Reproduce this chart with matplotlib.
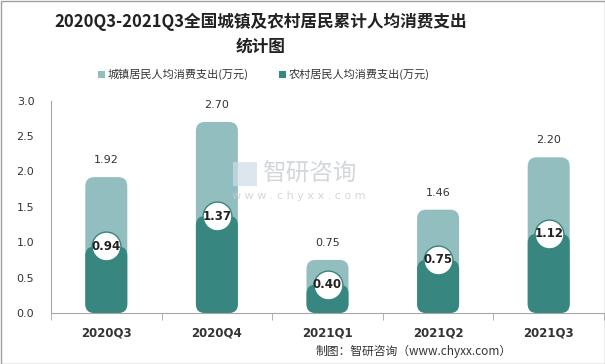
import matplotlib.pyplot as plt
from matplotlib.patches import FancyBboxPatch, Rectangle

plt.rcParams['font.family'] = ['Noto Sans CJK SC', 'DejaVu Sans']

quarters = ["2020Q3", "2020Q4", "2021Q1", "2021Q2", "2021Q3"]
urban = [1.92, 2.70, 0.75, 1.46, 2.20]
rural = [0.94, 1.37, 0.40, 0.75, 1.12]

light = "#93bec0"
dark = "#37867f"

W, H = 605, 364
fig = plt.figure(figsize=(W / 100, H / 100), dpi=100)
ax = fig.add_axes([51 / W, 1 - 313 / H, 553 / W, (313 - 100.7) / H])
ax.set_xlim(-0.5, len(quarters) - 0.5)
ax.set_ylim(0, 3)

# px -> data unit conversions
px_x = len(quarters) / 553
px_y = 3 / (313 - 100.7)
aspect = px_y / px_x
bw = 42 * px_x
r = 9 * px_x

for i, (u, v) in enumerate(zip(urban, rural)):
    for val, col in [(u, light), (v, dark)]:
        p = FancyBboxPatch((i - bw / 2, 0), bw, val,
                           boxstyle=f"round,pad=0,rounding_size={r}",
                           mutation_aspect=aspect, fc=col, ec="none", zorder=2)
        ax.add_patch(p)
    ax.text(i, u + 12 * px_y, f"{u:.2f}", ha="center", va="bottom",
            fontsize=8, color="#333333", family=["DejaVu Sans"])

ax.scatter(range(len(quarters)), rural, s=430, c="white", edgecolors=dark,
           linewidths=1, zorder=3)
for i, v in enumerate(rural):
    ax.text(i, v, f"{v:.2f}", ha="center", va="center", fontsize=8.5,
            fontweight="bold", color="#222222", zorder=4, family=["DejaVu Sans"])

ax.set_yticks([0, 0.5, 1.0, 1.5, 2.0, 2.5, 3.0])
ax.set_yticklabels([f"{t:.1f}" for t in ax.get_yticks()], fontsize=8,
                   family=["DejaVu Sans"], color="#333333")
ax.tick_params(axis="y", length=0, pad=12)
ax.set_xticks(range(len(quarters)))
ax.set_xticklabels(quarters, fontsize=8.5, fontweight="bold", color="#333333",
                   family=["DejaVu Sans"])
ax.tick_params(axis="x", length=0, pad=10)
ax.set_xticks([i - 0.5 for i in range(len(quarters) + 1)], minor=True)
ax.tick_params(axis="x", which="minor", length=5, color="#a6a6a6")
for s in ["top", "right"]:
    ax.spines[s].set_visible(False)
for s in ["left", "bottom"]:
    ax.spines[s].set_color("#a6a6a6")

# title
fig.text(261 / W, 1 - 22 / H, "2020Q3-2021Q3全国城镇及农村居民累计人均消费支出",
         ha="center", va="center", fontsize=12, fontweight="bold", color="#222222")
fig.text(261 / W, 1 - 47 / H, "统计图", ha="center", va="center", fontsize=12,
         fontweight="bold", color="#222222")

# legend
fig.patches.append(Rectangle((98 / W, 1 - 78 / H), 7 / W, 7 / H, fc=light,
                             transform=fig.transFigure))
fig.text(108 / W, 1 - 74 / H, "城镇居民人均消费支出(万元)", va="center", fontsize=8,
         color="#333333")
fig.patches.append(Rectangle((279 / W, 1 - 78 / H), 7 / W, 7 / H, fc=dark,
                             transform=fig.transFigure))
fig.text(289 / W, 1 - 74 / H, "农村居民人均消费支出(万元)", va="center", fontsize=8,
         color="#333333")

# watermark
fig.text(262 / W, 1 - 174 / H, "智研咨询", va="center", fontsize=17,
         color="#c8cdd2", alpha=0.8)
fig.text(232 / W, 1 - 196 / H, "w w w . c h y x x . c o m", va="center",
         fontsize=8, color="#c8cdd2", alpha=0.8, family=["DejaVu Sans"])
fig.patches.append(Rectangle((233 / W, 1 - 186 / H), 24 / W, 24 / H, fc="#cfdbe6",
                             ec="none", alpha=0.7, transform=fig.transFigure))

fig.text(512 / W, 1 - 351 / H, "制图：智研咨询（www.chyxx.com）", ha="right",
         va="center", fontsize=8.5, color="#333333")

fig.patches.append(Rectangle((0.5 / W, 0.5 / H), 1 - 1 / W, 1 - 1 / H, fill=False,
                             ec="#a0a0a0", lw=1, transform=fig.transFigure))

fig.savefig("out.png", dpi=100)
